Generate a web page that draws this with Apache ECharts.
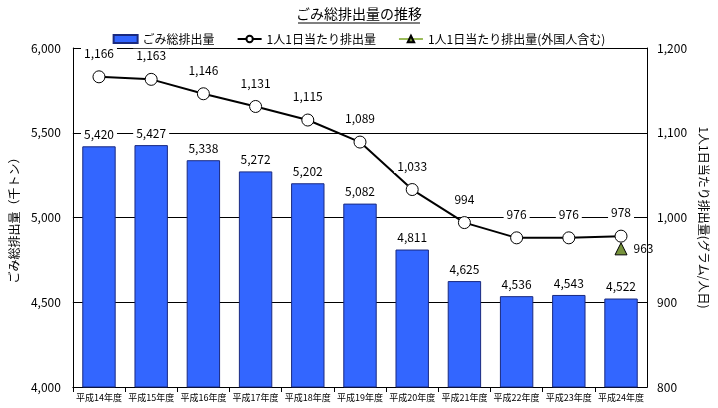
<!DOCTYPE html>
<html><head><meta charset="utf-8">
<script src="https://cdn.jsdelivr.net/npm/echarts@6/dist/echarts.min.js"></script>
<style>html,body{margin:0;background:#fff}#c{width:718px;height:408px}</style>
</head><body><div id="c"></div>
<script>
const years = ['平成14年度','平成15年度','平成16年度','平成17年度','平成18年度','平成19年度','平成20年度','平成21年度','平成22年度','平成23年度','平成24年度'];
const totalWaste = [5420, 5427, 5338, 5272, 5202, 5082, 4811, 4625, 4536, 4543, 4522];
const perPerson = [1166, 1163, 1146, 1131, 1115, 1089, 1033, 994, 976, 976, 978];
const perPersonForeign = [null, null, null, null, null, null, null, null, null, null, 963];

const font = '"Noto Sans CJK JP", sans-serif';
const chart = echarts.init(document.getElementById('c'));
const lbl = v => v.toLocaleString('en-US');
chart.setOption({
  textStyle: { fontFamily: font },
  title: {
    text: 'ごみ総排出量の推移', left: 'center', top: 2,
    textStyle: { fontSize: 14, fontWeight: 'normal', color: '#000', textBorderWidth: 0 },
    subtext: '', 
  },
  graphic: [{ type: 'line', shape: { x1: 298, y1: 23, x2: 420, y2: 23 }, style: { stroke: '#000', lineWidth: 1 } }],
  legend: {
    top: 28, left: 'center', itemGap: 22, itemWidth: 24, itemHeight: 8,
    textStyle: { fontSize: 12, color: '#000' },
    data: [
      { name: 'ごみ総排出量', icon: 'rect' },
      { name: '1人1日当たり排出量' },
      { name: '1人1日当たり排出量(外国人含む)' }
    ]
  },
  grid: { left: 70, right: 68, top: 48, bottom: 21 },
  xAxis: {
    type: 'category', data: years,
    axisLine: { lineStyle: { color: '#000' } },
    axisTick: { show: true, lineStyle: { color: '#000' } },
    axisLabel: { fontSize: 9, color: '#000', interval: 0, margin: 6 }
  },
  yAxis: [
    { type: 'value', min: 4000, max: 6000, interval: 500, name: 'ごみ総排出量（千トン）',
      nameLocation: 'middle', nameGap: 50, nameRotate: 90, nameTextStyle: { fontSize: 12, color: '#000' },
      axisLine: { show: true, lineStyle: { color: '#000' } }, axisTick: { show: false },
      axisLabel: { formatter: lbl, color: '#000', fontSize: 12, margin: 12 },
      splitLine: { lineStyle: { color: '#000', width: 1 } } },
    { type: 'value', min: 800, max: 1200, interval: 100, name: '1人1日当たり排出量(グラム/人日)',
      nameLocation: 'middle', nameGap: 46, nameRotate: -90, nameTextStyle: { fontSize: 12, color: '#000' },
      axisLine: { show: true, lineStyle: { color: '#000' } }, axisTick: { show: false },
      axisLabel: { formatter: lbl, color: '#000', fontSize: 12, margin: 10 },
      splitLine: { show: false } }
  ],
  series: [
    { name: 'ごみ総排出量', type: 'bar', data: totalWaste, barWidth: '64%',
      itemStyle: { color: '#3366ff', borderColor: '#1a2a80', borderWidth: 1 },
      label: { show: true, position: 'top', formatter: p => lbl(p.value), color: '#000', fontSize: 12,
        backgroundColor: '#fff', padding: [1, 3] } },
    { name: '1人1日当たり排出量', type: 'line', yAxisIndex: 1, data: perPerson,
      symbol: 'circle', symbolSize: 12, lineStyle: { color: '#000', width: 2 },
      itemStyle: { color: '#fff', borderColor: '#000', borderWidth: 1 },
      label: { show: true, position: 'top', distance: 10, formatter: p => lbl(p.value), color: '#000', fontSize: 12,
        backgroundColor: '#fff', padding: [1, 3] }, z: 5 },
    { name: '1人1日当たり排出量(外国人含む)', type: 'line', yAxisIndex: 1, data: perPersonForeign,
      symbol: 'triangle', symbolSize: 12, lineStyle: { color: '#9bbb59', width: 4 },
      itemStyle: { color: '#77933c', borderColor: '#000', borderWidth: 1 },
      label: { show: true, position: 'right', distance: 6, color: '#000', fontSize: 12 }, z: 6 }
  ]
});
</script></body></html>
